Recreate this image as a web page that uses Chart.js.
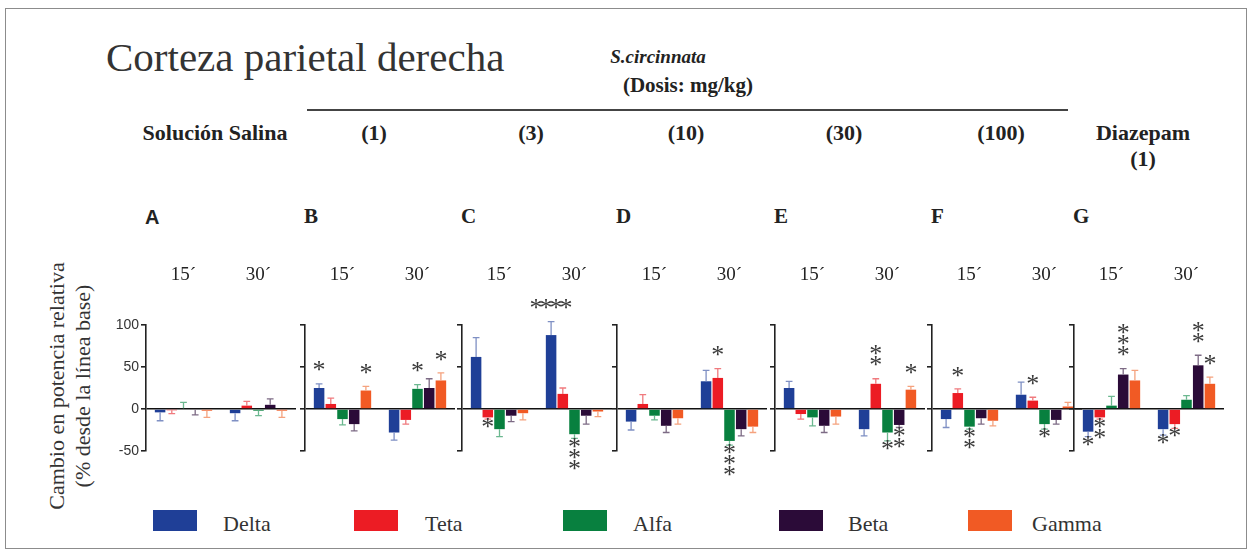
<!DOCTYPE html>
<html>
<head>
<meta charset="utf-8">
<script src="https://cdn.jsdelivr.net/npm/chart.js@4.4.0/dist/chart.umd.min.js"></script>
<style>
  html, body { margin: 0; padding: 0; background: #fff; }
  #page { position: relative; width: 1252px; height: 556px; overflow: hidden; font-family: "Liberation Serif", serif; color: #222; }
  #frame { position: absolute; left: 5px; top: 8px; width: 1242px; height: 541px; border: 1px solid #8c8c8c; box-sizing: border-box; }
  .t { position: absolute; white-space: nowrap; line-height: 1; }
  .c { transform: translateX(-50%); text-align: center; }
  .b { font-weight: bold; }
  canvas.panel { position: absolute; top: 255px; }
  .sw { position: absolute; top: 510px; width: 44px; height: 21px; }
  #ytitle { position: absolute; left: 70px; top: 386px; transform: translate(-50%, -50%) rotate(-90deg);
            font-size: 22px; line-height: 26px; text-align: center; white-space: nowrap; color: #333; }
</style>
</head>
<body>
<div id="page">
  <div id="frame"></div>
  <div class="t" style="left:106px; top:37px; font-size:41px; color:#333;">Corteza parietal derecha</div>
  <div class="t c b" style="left:658px; top:47px; font-size:19px; font-style:italic;">S.circinnata</div>
  <div class="t c b" style="left:688px; top:75px; font-size:21px;">(Dosis: mg/kg)</div>
  <div style="position:absolute; left:307px; top:109px; width:761px; height:2px; background:#444;"></div>
  <div id="ytitle">Cambio en potencia relativa<br>(% desde la línea base)</div>
</div>

<script>
// Categories
const times = ['15´', '30´'];
const bands = ['Delta', 'Teta', 'Alfa', 'Beta', 'Gamma'];
const panelLetters = ['A', 'B', 'C', 'D', 'E', 'F', 'G'];
const treatments = ['Solución Salina', '(1)', '(3)', '(10)', '(30)', '(100)', 'Diazepam'];
const yTicks = [-50, 0, 50, 100];

// mean change per panel [15´, 30´]
const delta = [[-4, -5], [25, -28], [62, 88], [-15, 33], [25, -24], [-12, 17], [-27, -24]];
const teta  = [[-1.5, 4], [6, -13], [-10, 18], [6, 37], [-6, 30], [19, 10], [-10, -18]];
const alfa  = [[1, -2], [-12, 24], [-24, -30], [-8, -38], [-10, -28], [-21, -18], [4, 11]];
const beta  = [[-1, 5], [-18, 25], [-8, -8], [-20, -24], [-20, -19], [-11, -13], [41, 52]];
const gamma = [[-2, -2], [22, 34], [-5, -3], [-11, -21], [-9, 23], [-14, 3], [34, 30]];

// standard error per panel [15´, 30´]
const deltaErr = [[10, 9], [5, 9], [23, 16], [10, 13], [8, 8], [10, 15], [6, 7]];
const tetaErr  = [[4, 5], [7, 5], [2, 7], [11, 11], [6, 6], [5, 4], [2, 5]];
const alfaErr  = [[7, 6], [7, 5], [9, 5], [5, 5], [10, 10], [3, 6], [11, 5]];
const betaErr  = [[6, 7], [8, 11], [7, 10], [8, 8], [8, 3], [7, 5], [7, 12]];
const gammaErr = [[8, 8], [5, 9], [8, 6], [7, 7], [9, 4], [6, 5], [12, 8]];

// significance marks: [panel, time, band, number of asterisks, 'v' stacked / 'h' in a row]
const stars = [
  [1, 0, 0, 1, 'v'], [1, 0, 4, 1, 'v'], [1, 1, 2, 1, 'v'], [1, 1, 4, 1, 'v'],
  [2, 0, 1, 1, 'v'], [2, 1, 0, 4, 'h'], [2, 1, 2, 3, 'v'],
  [3, 1, 1, 1, 'v'], [3, 1, 2, 3, 'v'],
  [4, 1, 1, 2, 'v'], [4, 1, 2, 1, 'v'], [4, 1, 3, 2, 'v'], [4, 1, 4, 1, 'v'],
  [5, 0, 1, 1, 'v'], [5, 0, 2, 2, 'v'], [5, 1, 1, 1, 'v'], [5, 1, 2, 1, 'v'],
  [6, 0, 0, 1, 'v'], [6, 0, 1, 2, 'v'], [6, 0, 3, 3, 'v'],
  [6, 1, 0, 1, 'v'], [6, 1, 1, 1, 'v'], [6, 1, 3, 2, 'v'], [6, 1, 4, 1, 'v']
];

const values = [delta, teta, alfa, beta, gamma];
const errors = [deltaErr, tetaErr, alfaErr, betaErr, gammaErr];
const colors = ['#1f3f97', '#ec1c24', '#08803f', '#2b0b38', '#f15a24'];
const errColors = ['#7f90c4', '#f07a7e', '#6cb890', '#7d6b85', '#f5a27e'];

// layout
const page = document.getElementById('page');
const axisX = [146, 305, 462, 617, 775, 932, 1074];
const AXIS_W = 45;

function txt(s, left, top, size, cls, extra) {
  const d = document.createElement('div');
  d.className = 't ' + (cls || '');
  d.textContent = s;
  d.style.left = left + 'px';
  d.style.top = top + 'px';
  d.style.fontSize = size + 'px';
  if (extra) Object.assign(d.style, extra);
  page.appendChild(d);
}

treatments.forEach((s, i) => txt(s, axisX[i] + 69, 122, 22, 'c b'));
txt('(1)', axisX[6] + 69, 148, 22, 'c b');
panelLetters.forEach((s, i) => {
  if (i === 0) txt(s, axisX[i] - 1, 207, 20, 'b', { fontFamily: '"Liberation Sans", sans-serif' });
  else txt(s, axisX[i] - 1, 206, 21, 'b');
});

// legend
const swX = [153, 354, 563, 779, 968];
const lbX = [223, 425, 633, 848, 1032];
bands.forEach((b, k) => {
  const s = document.createElement('div');
  s.className = 'sw';
  s.style.left = swX[k] + 'px';
  s.style.background = colors[k];
  page.appendChild(s);
  txt(b, lbX[k], 513, 22, '', { color: '#333' });
});

// error bars, drawn one-sided away from zero
const errorBars = {
  id: 'errorBars',
  afterDatasetsDraw(chart) {
    const { ctx } = chart;
    const y = chart.scales.y;
    chart.data.datasets.forEach((ds, i) => {
      chart.getDatasetMeta(i).data.forEach((bar, j) => {
        const v = ds.data[j], e = ds.errors[j];
        const end = y.getPixelForValue(v >= 0 ? v + e : v - e);
        const cap = bar.width * 0.32;
        ctx.save();
        ctx.strokeStyle = ds.errColor;
        ctx.lineWidth = 1.3;
        ctx.beginPath();
        ctx.moveTo(bar.x, bar.y);
        ctx.lineTo(bar.x, end);
        ctx.moveTo(bar.x - cap, end);
        ctx.lineTo(bar.x + cap, end);
        ctx.stroke();
        ctx.restore();
      });
    });
  }
};

// asterisks + time labels
const marks = {
  id: 'marks',
  afterDraw(chart, args, opts) {
    const { ctx, chartArea } = chart;
    const x = chart.scales.x, y = chart.scales.y;
    ctx.save();
    ctx.fillStyle = '#222';
    ctx.font = '19px "Liberation Serif"';
    ctx.textAlign = 'center';
    ctx.textBaseline = 'middle';
    times.forEach((t, i) => ctx.fillText(t, x.getPixelForValue(i), chartArea.top - 50));

    ctx.font = '26px "Liberation Serif"';
    ctx.fillStyle = '#3a3a3a';
    const m = ctx.measureText('*');
    const mid = (m.actualBoundingBoxDescent - m.actualBoundingBoxAscent) / 2;
    ctx.textBaseline = 'alphabetic';
    opts.list.forEach(([p, ti, k, n, dir]) => {
      const ds = chart.data.datasets[k];
      const bar = chart.getDatasetMeta(k).data[ti];
      const v = ds.data[ti], e = ds.errors[ti];
      const up = v >= 0;
      const edge = y.getPixelForValue(up ? v + e : v - e);
      const step = up ? -11 : 11;
      const first = edge + (up ? -10.5 : 11);
      for (let s = 0; s < n; s++) {
        if (dir === 'h') ctx.fillText('*', bar.x + (s - (n - 1) / 2) * 10, first - mid);
        else ctx.fillText('*', bar.x, first + s * step - mid);
      }
    });
    ctx.restore();
  }
};

axisX.forEach((ax, p) => {
  const cv = document.createElement('canvas');
  cv.className = 'panel';
  cv.width = 200;
  cv.height = 240;
  cv.style.left = (ax - AXIS_W) + 'px';
  page.appendChild(cv);

  new Chart(cv.getContext('2d'), {
    type: 'bar',
    data: {
      labels: times,
      datasets: bands.map((b, k) => ({
        label: b,
        data: values[k][p],
        errors: errors[k][p],
        errColor: errColors[k],
        backgroundColor: colors[k],
        borderWidth: 0,
        categoryPercentage: 0.78,
        barPercentage: 0.9
      }))
    },
    options: {
      responsive: false,
      animation: false,
      layout: { padding: { top: 70, bottom: 44, left: 0, right: 5 } },
      plugins: {
        legend: { display: false },
        tooltip: { enabled: false },
        marks: { list: stars.filter(s => s[0] === p) }
      },
      scales: {
        x: { display: false },
        y: {
          min: -50, max: 100,
          afterFit: s => { s.width = AXIS_W; },
          afterBuildTicks: s => { s.ticks = yTicks.map(v => ({ value: v })); },
          border: { display: true, color: '#222', width: 1.6 },
          grid: {
            drawOnChartArea: true,
            color: c => (c.tick && c.tick.value === 0) ? '#111' : 'rgba(0,0,0,0)',
            lineWidth: 1.6,
            tickColor: '#222',
            tickLength: 5
          },
          ticks: {
            display: p === 0,
            padding: 2,
            color: '#333',
            font: { family: '"Liberation Sans", Arial, sans-serif', size: 14 }
          }
        }
      }
    },
    plugins: [errorBars, marks]
  });
});
</script>
</body>
</html>
